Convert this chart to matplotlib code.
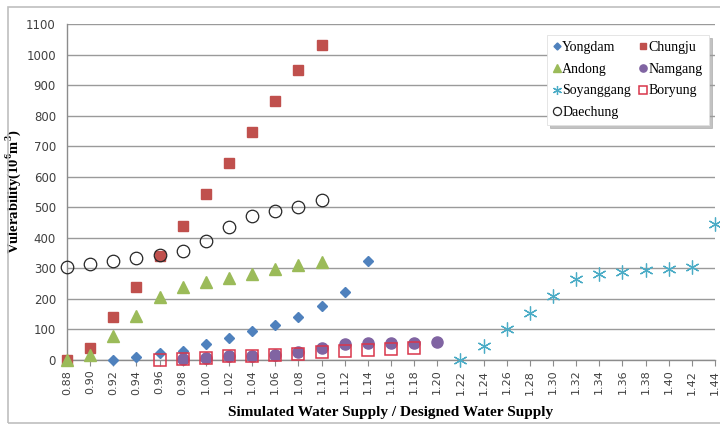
import matplotlib
matplotlib.use("Agg")
import matplotlib.pyplot as plt
from matplotlib.patches import Rectangle
from matplotlib.lines import Line2D

# Ratio of simulated to designed water supply (category axis)
ratios = [0.88, 0.90, 0.92, 0.94, 0.96, 0.98, 1.00, 1.02, 1.04, 1.06, 1.08, 1.10,
          1.12, 1.14, 1.16, 1.18, 1.20, 1.22, 1.24, 1.26, 1.28, 1.30, 1.32, 1.34,
          1.36, 1.38, 1.40, 1.42, 1.44]

# Vulnerability (10^6 m^3) per dam
yongdam_x = [0.92, 0.94, 0.96, 0.98, 1.00, 1.02, 1.04, 1.06, 1.08, 1.10, 1.12, 1.14]
yongdam_y = [0, 10, 22, 30, 52, 73, 95, 115, 142, 177, 224, 325]

chungju_x = [0.88, 0.90, 0.92, 0.94, 0.96, 0.98, 1.00, 1.02, 1.04, 1.06, 1.08, 1.10]
chungju_y = [0, 40, 140, 240, 340, 440, 545, 645, 745, 848, 950, 1030]

andong_x = [0.88, 0.90, 0.92, 0.94, 0.96, 0.98, 1.00, 1.02, 1.04, 1.06, 1.08, 1.10]
andong_y = [0, 17, 80, 145, 207, 240, 255, 270, 283, 297, 312, 322]

namgang_x = [0.98, 1.00, 1.02, 1.04, 1.06, 1.08, 1.10, 1.12, 1.14, 1.16, 1.18, 1.20]
namgang_y = [2, 8, 12, 13, 17, 25, 38, 52, 55, 57, 57, 60]

soyang_x = [1.22, 1.24, 1.26, 1.28, 1.30, 1.32, 1.34, 1.36, 1.38, 1.40, 1.42, 1.44]
soyang_y = [0, 46, 101, 153, 210, 264, 281, 287, 295, 299, 305, 444]

boryung_x = [0.96, 0.98, 1.00, 1.02, 1.04, 1.06, 1.08, 1.10, 1.12, 1.14, 1.16, 1.18]
boryung_y = [0, 3, 7, 12, 13, 15, 20, 25, 31, 34, 36, 40]

daechung_x = [0.88, 0.90, 0.92, 0.94, 0.96, 0.98, 1.00, 1.02, 1.04, 1.06, 1.08, 1.10]
daechung_y = [305, 313, 325, 333, 345, 358, 390, 437, 472, 488, 500, 523]

y_ticks = list(range(0, 1101, 100))

plt.rcParams["mathtext.fontset"] = "custom"
plt.rcParams["mathtext.rm"] = "Liberation Serif"
plt.rcParams["mathtext.bf"] = "Liberation Serif:bold"

fig = plt.figure(figsize=(7.2, 4.25), dpi=100)
W, H = 720, 425

# outer chart frame
fig.patches.append(Rectangle((8 / W, 2 / H), 730 / W, 416 / H, transform=fig.transFigure,
                             fill=False, edgecolor="#bfbfbf", linewidth=1.2))

ax = fig.add_axes([67 / W, (H - 360) / H, (715 - 67) / W, (360 - 24) / H])

series = [
    ("Yongdam", yongdam_x, yongdam_y, dict(marker="D", ms=5.5, mfc="#4F81BD", mec="#4F81BD")),
    ("Chungju", chungju_x, chungju_y, dict(marker="s", ms=7, mfc="#C0504D", mec="#C0504D")),
    ("Andong", andong_x, andong_y, dict(marker="^", ms=8, mfc="#9BBB59", mec="#9BBB59")),
    ("Namgang", namgang_x, namgang_y, dict(marker="o", ms=8, mfc="#8064A2", mec="#8064A2")),
    ("Soyanggang", soyang_x, soyang_y, dict(marker=(6, 2, 0), ms=10, mfc="none", mec="#4BACC6", mew=0.9)),
    ("Boryung", boryung_x, boryung_y, dict(marker="s", ms=8, mfc="none", mec="#D9354A", mew=1.1)),
    ("Daechung", daechung_x, daechung_y, dict(marker="o", ms=9, mfc="none", mec="#262626", mew=0.9)),
]

handles = {}
for name, xs, ys, style in series:
    h, = ax.plot(xs, ys, linestyle="none", clip_on=False, zorder=3, **style)
    handles[name] = h

ax.set_xlim(0.88, 1.44)
ax.set_ylim(0, 1100)
ax.set_xticks(ratios)
ax.set_xticklabels([f"{r:.2f}" for r in ratios], rotation=90, fontsize=8,
                   color="#404040", family="DejaVu Sans")
ax.set_yticks(y_ticks)
ax.set_yticklabels([str(v) for v in y_ticks], fontsize=8.5, color="#404040",
                   family="DejaVu Sans")
ax.tick_params(axis="x", length=4, color="#8c8c8c", pad=3)
ax.tick_params(axis="y", length=0, pad=8)

ax.grid(axis="y", color="#9a9a9a", linewidth=1.0)
ax.set_axisbelow(True)
for s in ("top", "right"):
    ax.spines[s].set_visible(False)
for s in ("left", "bottom"):
    ax.spines[s].set_color("#8c8c8c")
    ax.spines[s].set_linewidth(1.0)

ax.set_xlabel("Simulated Water Supply / Designed Water Supply", family="Liberation Serif",
              fontweight="bold", fontsize=11, labelpad=8)
ax.set_ylabel(r"Vulerability(10$^{\mathbf{6}}$m$^{\mathbf{3}}$)", family="Liberation Serif",
              fontweight="bold", fontsize=10.5, labelpad=2)
ax.yaxis.set_label_coords(-0.068, 0.5)

# legend: two columns filled column-wise
order = ["Yongdam", "Andong", "Soyanggang", "Daechung", "Chungju", "Namgang", "Boryung"]
leg_handles = []
for name in order:
    h = handles[name]
    leg_handles.append(Line2D([], [], linestyle="none", marker=h.get_marker(),
                              ms=h.get_markersize() * 0.65, mfc=h.get_markerfacecolor(),
                              mec=h.get_markeredgecolor(), mew=h.get_markeredgewidth()))
leg = ax.legend(leg_handles, order, ncol=2, loc="upper left",
                bbox_to_anchor=(547 / W, (H - 35) / H), bbox_transform=fig.transFigure,
                prop={"family": "Liberation Serif", "size": 10}, frameon=True,
                fancybox=False, shadow={"color": "#9a9a9a", "alpha": 0.6},
                edgecolor="#e0e0e0", handlelength=0.5,
                handletextpad=0.15, columnspacing=0.6, labelspacing=0.62,
                borderpad=0.45, borderaxespad=0)
leg.get_frame().set_linewidth(0.6)

fig.savefig("out.png", dpi=100)
